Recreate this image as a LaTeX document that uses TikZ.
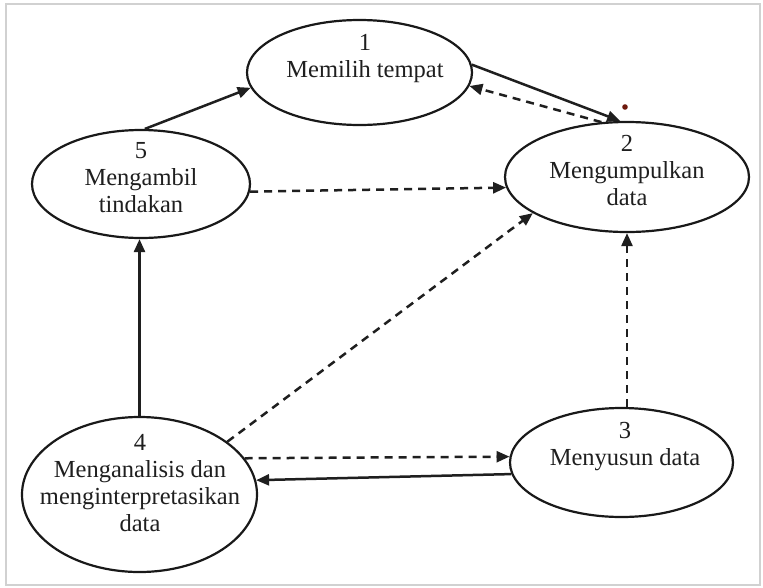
\documentclass[tikz,border=0pt]{standalone}
\usepackage{fontspec}
\setmainfont{Liberation Serif}
\usetikzlibrary{arrows.meta,shapes.geometric}
\begin{document}
\begin{tikzpicture}[x=1pt,y=-1pt,
  stage/.style={draw=black!90,line width=2.2pt,ellipse,inner sep=0pt},
  caption/.style={align=center,inner sep=0pt,font=\fontsize{24.5}{27}\selectfont,text=black!88},
  flow/.style={line width=2.5pt,draw=black!88,-{Triangle[length=13pt,width=11pt]}},
  back/.style={flow,dash pattern=on 8pt off 6pt}]
\useasboundingbox (0,0) rectangle (763,587);
\fill[white] (0,0) rectangle (763,587);
\draw[black!18,line width=2pt] (6,4) rectangle (760,585);

% stages of the cycle
\node[stage,minimum width=225pt,minimum height=105pt] (e1) at (359.5,72.5) {};
\node[stage,minimum width=244pt,minimum height=110pt] (e2) at (627,177) {};
\node[stage,minimum width=223pt,minimum height=109pt] (e3) at (621.5,462.5) {};
\node[stage,minimum width=235pt,minimum height=155pt] (e4) at (139.5,494.5) {};
\node[stage,minimum width=218pt,minimum height=108pt] (e5) at (141,184) {};

\node[caption] (t1) at (365,59) {1\\Memilih tempat};
\node[caption] (t2) at (627,171) {2\\Mengumpulkan\\data};
\node[caption] (t3) at (625,447) {3\\Menyusun data};
\node[caption] (t4) at (140,483) {4\\Menganalisis dan\\menginterpretasikan\\data};
\node[caption] (t5) at (141,178) {5\\Mengambil\\tindakan};

% small mark beside stage 2
\fill[black!65!red!80!brown] (625,107) circle (2.8pt);

% solid flows
\draw[flow] (e5.86) -- (e1.188);
\draw[flow] (e1.4) -- (e2.97);
\draw[flow] (e4.north) -- (e4.north |- e5.south);
\draw[flow] (e3.186.5) -- (e4.7);

% dashed flows
\draw[back] (e2.115) -- (e1.-7.5);
\draw[back] (e5.-4) -- (e2.185);
\draw[back] (e4.31) -- (e2.201);
\draw[back] (e2.south |- e3.north) -- (e2.south);
\draw[back] (e4.19) -- (e3.177);
\end{tikzpicture}
\end{document}
